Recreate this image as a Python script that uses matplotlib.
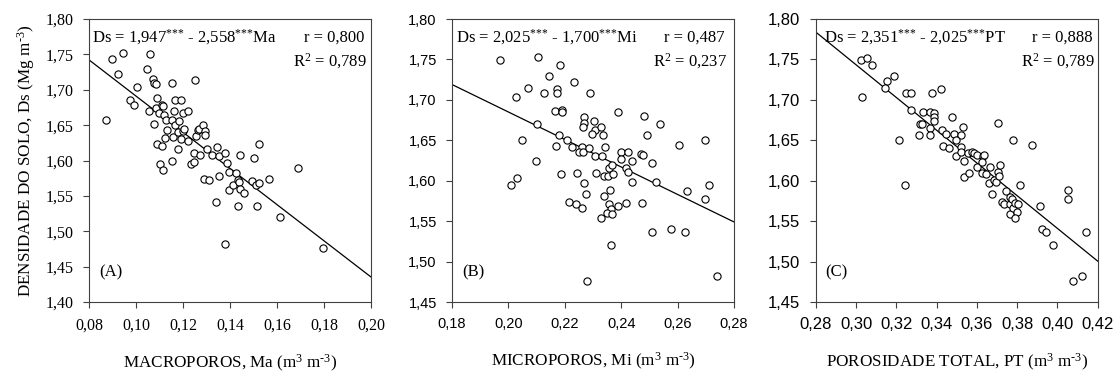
import matplotlib
matplotlib.use("Agg")
import matplotlib.pyplot as plt
import numpy as np
from matplotlib.ticker import FuncFormatter

plt.rcParams["font.family"] = "Liberation Serif"
plt.rcParams["mathtext.fontset"] = "custom"
plt.rcParams["mathtext.rm"] = "Liberation Serif"
plt.rcParams["mathtext.it"] = "Liberation Serif:italic"
plt.rcParams["mathtext.default"] = "rm"

# panel A: macroporosity vs bulk density
ma = [0.0896, 0.0946, 0.0925, 0.0872, 0.1006, 0.0974, 0.0991, 0.1045, 0.1060, 0.1074,
      0.1077, 0.1085, 0.1054, 0.1088, 0.1084, 0.1077, 0.1112, 0.1113, 0.1099, 0.1119,
      0.1128, 0.1130, 0.1125, 0.1091, 0.1111, 0.1103, 0.1113, 0.1152, 0.1166, 0.1190,
      0.1163, 0.1152, 0.1167, 0.1159, 0.1177, 0.1184, 0.1199, 0.1220, 0.1199, 0.1190,
      0.1180, 0.1153, 0.1223, 0.1251, 0.1234, 0.1248, 0.1248, 0.1255, 0.1262, 0.1269,
      0.1272, 0.1286, 0.1294, 0.1294, 0.1304, 0.1291, 0.1311, 0.1322, 0.1346, 0.1355,
      0.1352, 0.1340, 0.1380, 0.1389, 0.1397, 0.1397, 0.1414, 0.1426, 0.1435, 0.1437,
      0.1444, 0.1443, 0.1460, 0.1435, 0.1380, 0.1502, 0.1494, 0.1509, 0.1525, 0.1525,
      0.1513, 0.1565, 0.1614, 0.1688, 0.1797, 0.1205]
ds_a = [1.743, 1.752, 1.722, 1.657, 1.704, 1.685, 1.679, 1.730, 1.750, 1.715,
        1.709, 1.708, 1.670, 1.688, 1.674, 1.651, 1.678, 1.677, 1.667, 1.664,
        1.657, 1.643, 1.632, 1.624, 1.621, 1.595, 1.587, 1.709, 1.685, 1.685,
        1.670, 1.658, 1.650, 1.633, 1.641, 1.656, 1.667, 1.670, 1.642, 1.631,
        1.617, 1.600, 1.627, 1.714, 1.595, 1.598, 1.610, 1.634, 1.643, 1.644,
        1.608, 1.650, 1.642, 1.636, 1.617, 1.574, 1.573, 1.608, 1.619, 1.606,
        1.578, 1.541, 1.610, 1.597, 1.584, 1.558, 1.565, 1.582, 1.572, 1.570,
        1.608, 1.560, 1.554, 1.536, 1.482, 1.604, 1.571, 1.565, 1.568, 1.624,
        1.536, 1.574, 1.520, 1.589, 1.476, 1.645]

# panel B: microporosity vs bulk density
mi = [0.1969, 0.2103, 0.2182, 0.2143, 0.2231, 0.2071, 0.2026, 0.2125, 0.2171, 0.2171,
      0.2288, 0.2166, 0.2190, 0.2190, 0.2100, 0.2267, 0.2269, 0.2266, 0.2304, 0.2306,
      0.2296, 0.2328, 0.2334, 0.2390, 0.2481, 0.2493, 0.2538, 0.2179, 0.2049, 0.2168,
      0.2208, 0.2226, 0.2262, 0.2250, 0.2265, 0.2285, 0.2307, 0.2343, 0.2331, 0.2400,
      0.2424, 0.2398, 0.2439, 0.2469, 0.2476, 0.2510, 0.2605, 0.2698, 0.2098, 0.2185,
      0.2242, 0.2309, 0.2337, 0.2353, 0.2357, 0.2368, 0.2371, 0.2416, 0.2424, 0.2439,
      0.2522, 0.2008, 0.2032, 0.2269, 0.2276, 0.2337, 0.2361, 0.2215, 0.2238, 0.2260,
      0.2356, 0.2362, 0.2351, 0.2367, 0.2327, 0.2389, 0.2416, 0.2475, 0.2633, 0.2698,
      0.2711, 0.2509, 0.2577, 0.2625, 0.2365, 0.2280, 0.2740]
ds_b = [1.749, 1.753, 1.743, 1.729, 1.722, 1.715, 1.704, 1.709, 1.714, 1.709,
        1.708, 1.686, 1.688, 1.685, 1.670, 1.679, 1.671, 1.666, 1.674, 1.663,
        1.658, 1.666, 1.657, 1.685, 1.680, 1.657, 1.670, 1.657, 1.650, 1.643,
        1.651, 1.642, 1.642, 1.635, 1.635, 1.640, 1.630, 1.642, 1.630, 1.636,
        1.636, 1.627, 1.624, 1.633, 1.632, 1.622, 1.644, 1.651, 1.624, 1.608,
        1.610, 1.610, 1.606, 1.606, 1.616, 1.620, 1.608, 1.616, 1.611, 1.599,
        1.599, 1.595, 1.604, 1.597, 1.584, 1.581, 1.589, 1.574, 1.571, 1.566,
        1.571, 1.565, 1.560, 1.559, 1.554, 1.569, 1.573, 1.573, 1.587, 1.578,
        1.595, 1.536, 1.540, 1.536, 1.520, 1.476, 1.482]

# panel C: total porosity vs bulk density
pt = [0.3025, 0.3052, 0.3080, 0.3030, 0.3156, 0.3146, 0.3189, 0.3247, 0.3275, 0.3375,
      0.3423, 0.3275, 0.3333, 0.3368, 0.3385, 0.3385, 0.3385, 0.3319, 0.3327, 0.3368,
      0.3426, 0.3474, 0.3312, 0.3365, 0.3448, 0.3488, 0.3521, 0.3532, 0.3430, 0.3461,
      0.3494, 0.3498, 0.3521, 0.3534, 0.3534, 0.3562, 0.3521, 0.3554, 0.3575, 0.3584,
      0.3600, 0.3600, 0.3628, 0.3633, 0.3627, 0.3623, 0.3643, 0.3663, 0.3658, 0.3675,
      0.3683, 0.3695, 0.3703, 0.3708, 0.3716, 0.3705, 0.3777, 0.3872, 0.3816, 0.3746,
      0.3726, 0.3733, 0.3763, 0.3766, 0.3775, 0.3763, 0.3779, 0.3791, 0.3802, 0.3799,
      0.3791, 0.3913, 0.3922, 0.3945, 0.3980, 0.4053, 0.4053, 0.4140, 0.4079, 0.4124,
      0.3244, 0.3214]
ds_c = [1.749, 1.752, 1.743, 1.704, 1.723, 1.715, 1.729, 1.709, 1.709, 1.708,
        1.713, 1.688, 1.685, 1.685, 1.684, 1.679, 1.674, 1.670, 1.670, 1.665,
        1.663, 1.679, 1.657, 1.657, 1.658, 1.658, 1.656, 1.667, 1.643, 1.640,
        1.650, 1.630, 1.642, 1.624, 1.605, 1.610, 1.636, 1.634, 1.636, 1.634,
        1.632, 1.617, 1.630, 1.632, 1.623, 1.610, 1.608, 1.617, 1.597, 1.584,
        1.601, 1.599, 1.611, 1.606, 1.620, 1.671, 1.651, 1.644, 1.595, 1.587,
        1.574, 1.571, 1.571, 1.580, 1.577, 1.559, 1.566, 1.573, 1.571, 1.561,
        1.554, 1.569, 1.540, 1.536, 1.520, 1.588, 1.578, 1.536, 1.476, 1.482,
        1.595, 1.650]

# fitted equations (intercept, slope) and stats
fits = [(1.947, -2.558), (2.025, -1.700), (2.351, -2.025)]
equations = [
    r"Ds = 1,947$^{\text{***}}$ - 2,558$^{\text{***}}$Ma",
    r"Ds = 2,025$^{\text{***}}$ - 1,700$^{\text{***}}$Mi",
    r"Ds = 2,351$^{\text{***}}$ - 2,025$^{\text{***}}$PT",
]
r_texts = ["r = 0,800", "r = 0,487", "r = 0,888"]
r2_texts = [r"R$^2$ = 0,789", r"R$^2$ = 0,237", r"R$^2$ = 0,789"]
letters = ["(A)", "(B)", "(C)"]
xlabels = [
    r"MACROPOROS, Ma (m$^3$ m$^{\text{-3}}$)",
    r"MICROPOROS, Mi (m$^3$ m$^{\text{-3}}$)",
    r"POROSIDADE TOTAL, PT (m$^3$ m$^{\text{-3}}$)",
]
xlims = [(0.08, 0.20), (0.18, 0.28), (0.28, 0.42)]
ylims = [(1.40, 1.80), (1.45, 1.80), (1.45, 1.80)]
tick_fonts = ["Liberation Serif", "Liberation Sans", "Liberation Sans"]
tick_sizes = [11.5, 10.5, 12]
eq_x = [0.012, 0.014, 0.03]
r_x = [0.975, 0.965, 0.982]
r2_x = [0.986, 0.975, 0.989]

xs = [ma, mi, pt]
ys = [ds_a, ds_b, ds_c]

fig = plt.figure(figsize=(11.19, 3.74), dpi=100)
lefts = [0.0795, 0.404, 0.729]

comma = FuncFormatter(lambda v, p: f"{v:.2f}".replace(".", ","))

for i in range(3):
    ax = fig.add_axes([lefts[i], 0.1925, 0.252, 0.7565])
    ax.plot(xs[i], ys[i], "o", ms=5.2, mfc="white", mec="black", mew=0.8, zorder=3)
    x0, x1 = xlims[i]
    xx = np.array([x0, x1])
    a, b = fits[i]
    ax.plot(xx, a + b * xx, color="black", lw=0.9, zorder=2)
    ax.set_xlim(x0, x1)
    ax.set_ylim(*ylims[i])
    ax.set_xticks(np.arange(x0, x1 + 1e-6, 0.02))
    ax.set_yticks(np.arange(ylims[i][0], ylims[i][1] + 1e-6, 0.05))
    ax.xaxis.set_major_formatter(comma)
    ax.yaxis.set_major_formatter(comma)
    ax.tick_params(direction="out", length=4, width=0.8, color="#404040", pad=7)
    for lab in ax.get_xticklabels() + ax.get_yticklabels():
        lab.set_family(tick_fonts[i])
        lab.set_fontsize(tick_sizes[i])
    for sp in ax.spines.values():
        sp.set_color("#404040")
        sp.set_linewidth(0.8)

    ax.text(eq_x[i], 0.935, equations[i], transform=ax.transAxes, fontsize=12,
            ha="left", va="center")
    ax.text(r_x[i], 0.935, r_texts[i], transform=ax.transAxes, fontsize=12,
            ha="right", va="center")
    ax.text(r2_x[i], 0.852, r2_texts[i], transform=ax.transAxes, fontsize=12,
            ha="right", va="center")
    ax.text(0.035, 0.106, letters[i], transform=ax.transAxes, fontsize=12,
            ha="left", va="center")
    ax.set_xlabel(xlabels[i], fontsize=12.3, labelpad=14)
    if i == 0:
        ax.set_ylabel(r"DENSIDADE DO SOLO, Ds (Mg m$^{\text{-3}}$)", fontsize=12.3,
                      labelpad=6)

fig.savefig("out.png", dpi=100)
